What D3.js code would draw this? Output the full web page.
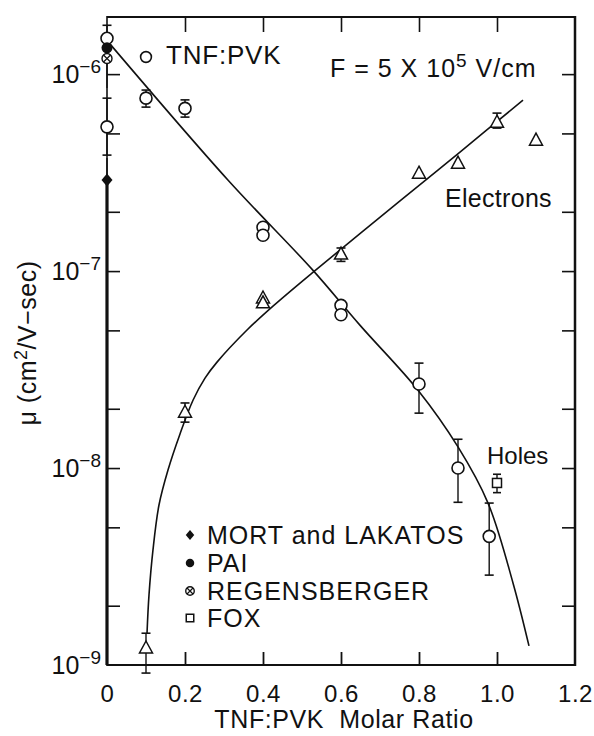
<!DOCTYPE html>
<html><head><meta charset="utf-8">
<script src="https://cdn.jsdelivr.net/npm/d3@7"></script>
<style>
html,body{margin:0;padding:0;background:#fff;}
text{font-family:"Liberation Sans",Arial,Helvetica,sans-serif;fill:#111;}
</style>
</head><body>
<svg id="chart" width="594" height="736"></svg>
<script>
// ---------- DATA ----------
const xTicks = [0, 0.2, 0.4, 0.6, 0.8, 1.0, 1.2];
const xTickLabels = ["0", "0.2", "0.4", "0.6", "0.8", "1.0", "1.2"];
const yMajor = [1e-9, 1e-8, 1e-7, 1e-6];
const yMajorExp = ["−9", "−8", "−7", "−6"];
const yMinor = [2e-9, 5e-9, 2e-8, 5e-8, 2e-7, 5e-7];

// Holes, TNF:PVK (open circles)
const holeX  = [0, 0, 0.1, 0.2, 0.4, 0.4, 0.6, 0.6, 0.8, 0.9, 0.98];
const holeY  = [1.52e-6, 5.4e-7, 7.55e-7, 6.7e-7, 1.67e-7, 1.52e-7, 6.7e-8, 6.0e-8, 2.67e-8, 1.0e-8, 4.5e-9];
const holeHi = [1.77e-6, 7.55e-7, 8.3e-7, 7.4e-7, null, null, null, null, 3.41e-8, 1.40e-8, 6.64e-9];
const holeLo = [null, 3.88e-7, 6.8e-7, 6.05e-7, null, null, null, null, 1.90e-8, 6.7e-9, 2.86e-9];

// Electrons, TNF:PVK (open triangles)
const elecX  = [0.1, 0.2, 0.4, 0.4, 0.6, 0.8, 0.9, 1.0, 1.1];
const elecY  = [1.22e-9, 1.92e-8, 7.3e-8, 6.9e-8, 1.22e-7, 3.14e-7, 3.53e-7, 5.7e-7, 4.62e-7];
const elecHi = [1.45e-9, 2.14e-8, null, null, 1.31e-7, null, null, 6.34e-7, null];
const elecLo = [9.1e-10, 1.71e-8, null, null, 1.12e-7, null, null, 5.32e-7, null];

// Other authors
const foxX = [1.0], foxY = [8.4e-9], foxHi = [9.3e-9], foxLo = [7.5e-9];
const regX = [0], regY = [1.2e-6], regLo = [8.5e-7];
const paiX = [0], paiY = [1.36e-6];
const mortX = [0], mortY = [2.9e-7], mortHi = [3.75e-7], mortLo = [1e-9];

// Fitted curves
const holeCurveX = [0.008, 0.31, 0.526, 0.649, 0.797, 0.9, 0.977, 1.041, 1.082];
const holeCurveY = [1.42e-6, 2.9e-7, 1.02e-7, 5.3e-8, 2.49e-8, 1.28e-8, 6.64e-9, 2.61e-9, 1.25e-9];
const elecCurveX = [0.1026, 0.1077, 0.1179, 0.1333, 0.1564, 0.1872, 0.2205, 0.2513, 0.2821, 0.359, 0.4256, 0.5256, 0.7513, 0.9051, 1.0667];
const elecCurveY = [1.45e-9, 2.27e-9, 3.84e-9, 6.49e-9, 9.77e-9, 1.49e-8, 2.21e-8, 2.86e-8, 3.45e-8, 5.02e-8, 6.64e-8, 9.77e-8, 2.27e-7, 4.02e-7, 7.38e-7];

const legendLabels = ["MORT and LAKATOS", "PAI", "REGENSBERGER", "FOX"];
const legendSymbols = ["diamond", "dot", "cross", "square"];

// ---------- CHART ----------
const svg = d3.select("#chart");
const L = 107, R = 575, T = 17, B = 665;
const x = d3.scaleLinear().domain([0, 1.2]).range([L, R]);
const y = d3.scaleLog().domain([1e-9, 1.95e-6]).range([B, T]);
const ink = "#111";

// frame
const g = svg.append("g");
g.append("line").attr("x1", L).attr("x2", R).attr("y1", T).attr("y2", T).attr("stroke", ink).attr("stroke-width", 2);
g.append("line").attr("x1", L).attr("x2", R + 1).attr("y1", B).attr("y2", B).attr("stroke", ink).attr("stroke-width", 2.2);
g.append("line").attr("x1", R).attr("x2", R).attr("y1", T - 1).attr("y2", B + 1).attr("stroke", ink).attr("stroke-width", 2.5);
g.append("line").attr("x1", L).attr("x2", L).attr("y1", T - 1).attr("y2", B + 1).attr("stroke", ink).attr("stroke-width", 1.6);

// x axis ticks (bottom, pointing up) and labels
const bottomAxis = d3.axisBottom(x).tickValues(xTicks).tickSizeInner(-13).tickSizeOuter(0)
  .tickFormat((d, i) => xTickLabels[i]).tickPadding(24);
const bx = svg.append("g").attr("transform", `translate(0,${B})`).call(bottomAxis);
bx.select(".domain").remove();
bx.selectAll(".tick line").attr("stroke", ink).attr("stroke-width", 1.8)
  .filter(d => d === 0 || d === 1.2).remove();
bx.selectAll(".tick text").attr("font-size", 24).attr("font-family", "Liberation Sans, Arial, sans-serif")
  .attr("fill", ink).attr("dy", "0.55em").attr("letter-spacing", 0.5);

// top ticks (pointing down)
const topAxis = d3.axisTop(x).tickValues(xTicks.filter(d => d > 0 && d < 1.2)).tickSizeInner(-15).tickSizeOuter(0).tickFormat("");
const tx = svg.append("g").attr("transform", `translate(0,${T})`).call(topAxis);
tx.select(".domain").remove();
tx.selectAll(".tick line").attr("stroke", ink).attr("stroke-width", 1.6);

// y ticks left (pointing right) and right (pointing left)
const yAll = yMajor.concat(yMinor);
const leftAxis = d3.axisLeft(y).tickValues(yAll).tickSizeInner(-13).tickSizeOuter(0).tickFormat("");
const ly = svg.append("g").attr("transform", `translate(${L},0)`).call(leftAxis);
ly.select(".domain").remove();
ly.selectAll(".tick line").attr("stroke", ink).attr("stroke-width", 1.6).filter(d => d === 1e-9).remove();
const rightAxis = d3.axisRight(y).tickValues(yAll).tickSizeInner(-13).tickSizeOuter(0).tickFormat("");
const ry = svg.append("g").attr("transform", `translate(${R},0)`).call(rightAxis);
ry.select(".domain").remove();
ry.selectAll(".tick line").attr("stroke", ink).attr("stroke-width", 1.6).filter(d => d === 1e-9).remove();

// y labels 10^n
yMajor.forEach((v, i) => {
  const t = svg.append("text").attr("x", 101).attr("y", y(v) + 9).attr("text-anchor", "end").attr("font-size", 25);
  t.append("tspan").text("10");
  t.append("tspan").attr("dy", -10).attr("font-size", 19).text(yMajorExp[i]);
});

// axis titles
svg.append("text").attr("x", 344).attr("y", 728).attr("text-anchor", "middle").attr("font-size", 25)
  .attr("letter-spacing", 0.6).attr("xml:space", "preserve").text("TNF:PVK  Molar Ratio");
const yt = svg.append("text").attr("transform", "translate(36,343) rotate(-90)").attr("text-anchor", "middle")
  .attr("font-size", 25).attr("letter-spacing", 0.5);
yt.append("tspan").text("μ (cm");
yt.append("tspan").attr("dy", -9).attr("font-size", 18).text("2");
yt.append("tspan").attr("dy", 9).text("/V−sec)");

// curves
const line = d3.line().x(d => x(d[0])).y(d => y(d[1])).curve(d3.curveCatmullRom.alpha(0.5));
svg.append("path").datum(d3.zip(holeCurveX, holeCurveY)).attr("d", line)
  .attr("fill", "none").attr("stroke", ink).attr("stroke-width", 1.6);
svg.append("path").datum(d3.zip(elecCurveX, elecCurveY)).attr("d", line)
  .attr("fill", "none").attr("stroke", ink).attr("stroke-width", 1.6);

// error bars
function drawErr(xs, ys, hi, lo, capW, lw) {
  xs.forEach((xv, i) => {
    const cx = x(xv);
    const top = hi[i] != null ? y(hi[i]) : y(ys[i]);
    const bot = lo[i] != null ? y(lo[i]) : y(ys[i]);
    if (top === bot) return;
    svg.append("line").attr("x1", cx).attr("x2", cx).attr("y1", top).attr("y2", bot)
      .attr("stroke", ink).attr("stroke-width", lw || 1.4);
    if (capW) {
      if (hi[i] != null) svg.append("line").attr("x1", cx - capW / 2).attr("x2", cx + capW / 2).attr("y1", top).attr("y2", top).attr("stroke", ink).attr("stroke-width", 1.6);
      if (lo[i] != null) svg.append("line").attr("x1", cx - capW / 2).attr("x2", cx + capW / 2).attr("y1", bot).attr("y2", bot).attr("stroke", ink).attr("stroke-width", 1.6);
    }
  });
}
drawErr(holeX, holeY, holeHi, holeLo, 9);
drawErr(elecX, elecY, elecHi, elecLo, 9);
drawErr(foxX, foxY, foxHi, foxLo, 8);
drawErr(regX, regY, [null], regLo, 0);
drawErr(mortX, mortY, mortHi, [null], 0);
drawErr(mortX, mortY, [null], mortLo, 0, 3.2);

// markers
const triPath = "M0,-7L6.5,5L-6.5,5Z";
function marker(sel, kind, cx, cy, s) {
  s = s || 1;
  if (kind === "open") sel.append("circle").attr("cx", cx).attr("cy", cy).attr("r", 6 * s).attr("fill", "#fff").attr("stroke", ink).attr("stroke-width", 1.6);
  else if (kind === "tri") sel.append("path").attr("d", triPath).attr("transform", `translate(${cx},${cy}) scale(${s})`).attr("fill", "#fff").attr("stroke", ink).attr("stroke-width", 1.5);
  else if (kind === "dot") sel.append("circle").attr("cx", cx).attr("cy", cy).attr("r", 5 * s).attr("fill", ink);
  else if (kind === "diamond") sel.append("path").attr("d", `M0,${-6 * s}L${5 * s},0L0,${6 * s}L${-5 * s},0Z`).attr("transform", `translate(${cx},${cy})`).attr("fill", ink);
  else if (kind === "square") sel.append("rect").attr("x", cx - 5 * s).attr("y", cy - 5 * s).attr("width", 10 * s).attr("height", 10 * s).attr("fill", "#fff").attr("stroke", ink).attr("stroke-width", 1.5);
  else if (kind === "cross") {
    const r = 5 * s;
    sel.append("circle").attr("cx", cx).attr("cy", cy).attr("r", r).attr("fill", "#fff").attr("stroke", ink).attr("stroke-width", 1.4);
    const k = r * 0.7;
    sel.append("path").attr("d", `M${cx - k},${cy - k}L${cx + k},${cy + k}M${cx - k},${cy + k}L${cx + k},${cy - k}`).attr("stroke", ink).attr("stroke-width", 1.2);
  }
}
const mk = svg.append("g");
holeX.forEach((xv, i) => marker(mk, "open", x(xv), y(holeY[i])));
elecX.forEach((xv, i) => marker(mk, "tri", x(xv), y(elecY[i])));
foxX.forEach((xv, i) => marker(mk, "square", x(xv), y(foxY[i]), 0.9));
paiX.forEach((xv, i) => marker(mk, "dot", x(xv), y(paiY[i]), 1.1));
regX.forEach((xv, i) => marker(mk, "cross", x(xv), y(regY[i])));
mortX.forEach((xv, i) => marker(mk, "diamond", x(xv), y(mortY[i]), 1.1));

// annotations
marker(svg, "open", 146, 57, 0.9);
svg.append("text").attr("x", 166).attr("y", 64).attr("font-size", 26).attr("letter-spacing", 0.8).text("TNF:PVK");
const ft = svg.append("text").attr("x", 330).attr("y", 77).attr("font-size", 25).attr("letter-spacing", 1).attr("xml:space", "preserve");
ft.append("tspan").text("F = 5 X 10");
ft.append("tspan").attr("dy", -10).attr("font-size", 19).text("5");
ft.append("tspan").attr("dy", 10).text(" V/cm");
svg.append("text").attr("x", 445).attr("y", 207).attr("font-size", 25).attr("letter-spacing", 0.3).text("Electrons");
svg.append("text").attr("x", 487).attr("y", 464).attr("font-size", 24).text("Holes");

// legend
const lg = svg.append("g");
const legY = [535, 563, 591, 618];
legendLabels.forEach((lab, i) => {
  marker(lg, legendSymbols[i], 190, legY[i], legendSymbols[i] === "square" ? 0.75 : 0.85);
  lg.append("text").attr("x", 207).attr("y", legY[i] + 9).attr("font-size", 25).attr("letter-spacing", 1).text(lab);
});
</script>
</body></html>
